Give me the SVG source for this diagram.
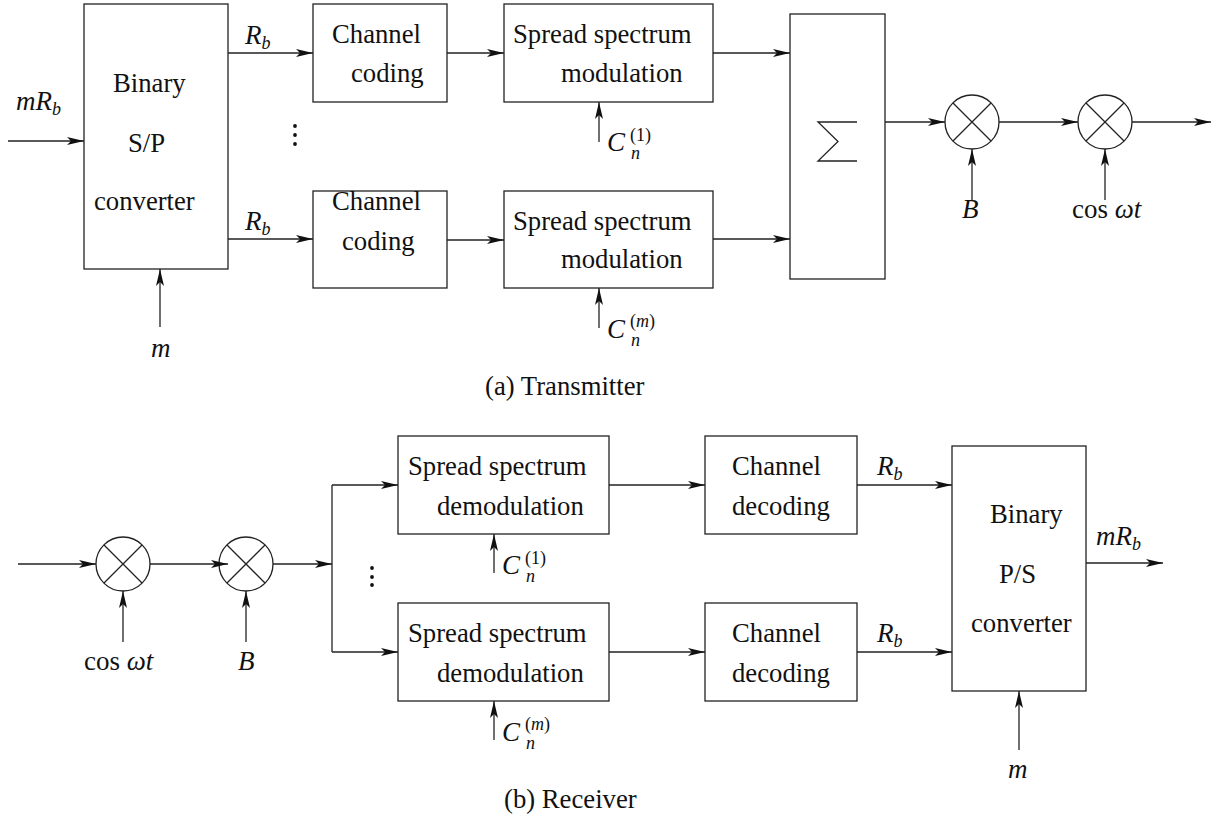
<svg xmlns="http://www.w3.org/2000/svg" width="1212" height="819" viewBox="0 0 1212 819">
  <style>
    .box { fill: none; stroke: #222; stroke-width: 1.3; }
    .wire { fill: none; stroke: #222; stroke-width: 1.3; }
    .arr { fill: none; stroke: #222; stroke-width: 1.3; marker-end: url(#head); }
    .lbl { font-family: "Liberation Serif", "Times New Roman", serif; font-size: 26.7px; fill: #111; }
    .math { font-family: "Liberation Serif", "Times New Roman", serif; font-style: italic; font-size: 27px; fill: #111; }
    .up { font-style: normal; }
    .sm { font-size: 18px; }
    .dot { fill: #111; }
  </style>
  <defs>
    <marker id="head" markerUnits="userSpaceOnUse" markerWidth="18" markerHeight="10" viewBox="0 -5 18 10" refX="17" refY="0" orient="auto">
      <path d="M0,-4 L17,0 L0,4 L4,0 Z" fill="#111"/>
    </marker>
  </defs>

  <!-- ===== (a) Transmitter ===== -->
  <g id="sp-converter">
    <rect class="box" x="84" y="4" width="144" height="265"/>
    <text class="lbl" x="113" y="92">Binary</text>
    <text class="lbl" x="128" y="152">S/P</text>
    <text class="lbl" x="94" y="210">converter</text>
  </g>
  <g id="tx-coding-1">
    <rect class="box" x="313" y="4" width="134" height="98"/>
    <text class="lbl" x="332" y="43">Channel</text>
    <text class="lbl" x="351" y="82">coding</text>
  </g>
  <g id="tx-coding-m">
    <rect class="box" x="313" y="191" width="134" height="97"/>
    <text class="lbl" x="332" y="210">Channel</text>
    <text class="lbl" x="342" y="250">coding</text>
  </g>
  <g id="tx-spread-1">
    <rect class="box" x="504" y="4" width="209" height="98"/>
    <text class="lbl" x="513" y="43">Spread spectrum</text>
    <text class="lbl" x="561" y="82">modulation</text>
  </g>
  <g id="tx-spread-m">
    <rect class="box" x="504" y="191" width="209" height="97"/>
    <text class="lbl" x="513" y="230">Spread spectrum</text>
    <text class="lbl" x="561" y="268">modulation</text>
  </g>
  <g id="tx-sum">
    <rect class="box" x="790" y="14" width="95" height="265"/>
    <path class="wire" d="M857,122 H818 L838,141.5 L818,161 H857"/>
  </g>
  <g id="tx-mult-b">
    <circle class="box" cx="972" cy="122" r="27"/>
    <path class="wire" d="M953,103 L991,141 M991,103 L953,141"/>
  </g>
  <g id="tx-mult-carrier">
    <circle class="box" cx="1105" cy="122" r="27"/>
    <path class="wire" d="M1086,103 L1124,141 M1124,103 L1086,141"/>
  </g>

  <g id="tx-connectors">
    <line class="arr" x1="8" y1="141" x2="84" y2="141"/>
    <line class="arr" x1="228" y1="53" x2="313" y2="53"/>
    <line class="arr" x1="228" y1="239" x2="313" y2="239"/>
    <line class="arr" x1="447" y1="53" x2="504" y2="53"/>
    <line class="arr" x1="447" y1="240" x2="504" y2="240"/>
    <line class="arr" x1="713" y1="53" x2="790" y2="53"/>
    <line class="arr" x1="713" y1="239" x2="790" y2="239"/>
    <line class="arr" x1="885" y1="122" x2="945" y2="122"/>
    <line class="arr" x1="999" y1="122" x2="1078" y2="122"/>
    <line class="arr" x1="1132" y1="122" x2="1211" y2="122"/>
    <line class="arr" x1="160" y1="327" x2="160" y2="269"/>
    <line class="arr" x1="599" y1="142" x2="599" y2="102"/>
    <line class="arr" x1="599" y1="328" x2="599" y2="288"/>
    <line class="arr" x1="972" y1="200" x2="972" y2="149"/>
    <line class="arr" x1="1105" y1="200" x2="1105" y2="149"/>
  </g>

  <g id="tx-labels">
    <text class="math" x="16" y="110">mR<tspan class="sm" dy="5">b</tspan></text>
    <text class="math" x="245" y="44">R<tspan class="sm" dy="5">b</tspan></text>
    <text class="math" x="245" y="230">R<tspan class="sm" dy="5">b</tspan></text>
    <text class="math" x="151" y="357">m</text>
    <text class="math" x="607" y="151">C</text>
    <text class="math sm" x="630" y="141"><tspan class="up">(1)</tspan></text>
    <text class="math sm" x="631" y="159">n</text>
    <text class="math" x="607" y="338">C</text>
    <text class="math sm" x="630" y="327"><tspan class="up">(</tspan>m<tspan class="up">)</tspan></text>
    <text class="math sm" x="631" y="346">n</text>
    <text class="math" x="962" y="218">B</text>
    <text class="math" x="1072" y="218"><tspan class="up">cos</tspan> ωt</text>
    <circle class="dot" cx="295" cy="126" r="1.9"/>
    <circle class="dot" cx="295" cy="135" r="1.9"/>
    <circle class="dot" cx="295" cy="144" r="1.9"/>
  </g>
  <text class="lbl" x="485" y="395">(a) Transmitter</text>

  <!-- ===== (b) Receiver ===== -->
  <g id="rx-mult-carrier">
    <circle class="box" cx="123" cy="564" r="27"/>
    <path class="wire" d="M104,545 L142,583 M142,545 L104,583"/>
  </g>
  <g id="rx-mult-b">
    <circle class="box" cx="246" cy="564" r="27"/>
    <path class="wire" d="M227,545 L265,583 M265,545 L227,583"/>
  </g>
  <g id="rx-despread-1">
    <rect class="box" x="398" y="436" width="211" height="98"/>
    <text class="lbl" x="408" y="475">Spread spectrum</text>
    <text class="lbl" x="437" y="515">demodulation</text>
  </g>
  <g id="rx-despread-m">
    <rect class="box" x="398" y="603" width="211" height="98"/>
    <text class="lbl" x="408" y="642">Spread spectrum</text>
    <text class="lbl" x="437" y="682">demodulation</text>
  </g>
  <g id="rx-decoding-1">
    <rect class="box" x="705" y="436" width="152" height="98"/>
    <text class="lbl" x="732" y="475">Channel</text>
    <text class="lbl" x="732" y="515">decoding</text>
  </g>
  <g id="rx-decoding-m">
    <rect class="box" x="705" y="603" width="152" height="98"/>
    <text class="lbl" x="732" y="642">Channel</text>
    <text class="lbl" x="732" y="682">decoding</text>
  </g>
  <g id="ps-converter">
    <rect class="box" x="952" y="446" width="134" height="245"/>
    <text class="lbl" x="990" y="523">Binary</text>
    <text class="lbl" x="999" y="583">P/S</text>
    <text class="lbl" x="971" y="632">converter</text>
  </g>

  <g id="rx-connectors">
    <line class="arr" x1="18" y1="564" x2="96" y2="564"/>
    <line class="arr" x1="150" y1="564" x2="228" y2="564"/>
    <line class="arr" x1="273" y1="564" x2="332" y2="564"/>
    <path class="wire" d="M332,485 V652"/>
    <line class="arr" x1="332" y1="485" x2="398" y2="485"/>
    <line class="arr" x1="332" y1="652" x2="398" y2="652"/>
    <line class="arr" x1="609" y1="485" x2="705" y2="485"/>
    <line class="arr" x1="609" y1="652" x2="705" y2="652"/>
    <line class="arr" x1="857" y1="485" x2="952" y2="485"/>
    <line class="arr" x1="857" y1="652" x2="952" y2="652"/>
    <line class="arr" x1="1086" y1="563" x2="1163" y2="563"/>
    <line class="arr" x1="123" y1="642" x2="123" y2="591"/>
    <line class="arr" x1="246" y1="642" x2="246" y2="591"/>
    <line class="arr" x1="494" y1="573" x2="494" y2="534"/>
    <line class="arr" x1="494" y1="740" x2="494" y2="701"/>
    <line class="arr" x1="1019" y1="750" x2="1019" y2="691"/>
  </g>

  <g id="rx-labels">
    <text class="math" x="84" y="670"><tspan class="up">cos</tspan> ωt</text>
    <text class="math" x="238" y="670">B</text>
    <text class="math" x="502" y="574">C</text>
    <text class="math sm" x="525" y="564"><tspan class="up">(1)</tspan></text>
    <text class="math sm" x="526" y="582">n</text>
    <text class="math" x="502" y="741">C</text>
    <text class="math sm" x="525" y="730"><tspan class="up">(</tspan>m<tspan class="up">)</tspan></text>
    <text class="math sm" x="526" y="749">n</text>
    <text class="math" x="877" y="475">R<tspan class="sm" dy="5">b</tspan></text>
    <text class="math" x="877" y="642">R<tspan class="sm" dy="5">b</tspan></text>
    <text class="math" x="1096" y="545">mR<tspan class="sm" dy="5">b</tspan></text>
    <text class="math" x="1008" y="778">m</text>
    <circle class="dot" cx="372" cy="568" r="1.9"/>
    <circle class="dot" cx="372" cy="577" r="1.9"/>
    <circle class="dot" cx="372" cy="585" r="1.9"/>
  </g>
  <text class="lbl" x="504" y="808">(b) Receiver</text>
</svg>
